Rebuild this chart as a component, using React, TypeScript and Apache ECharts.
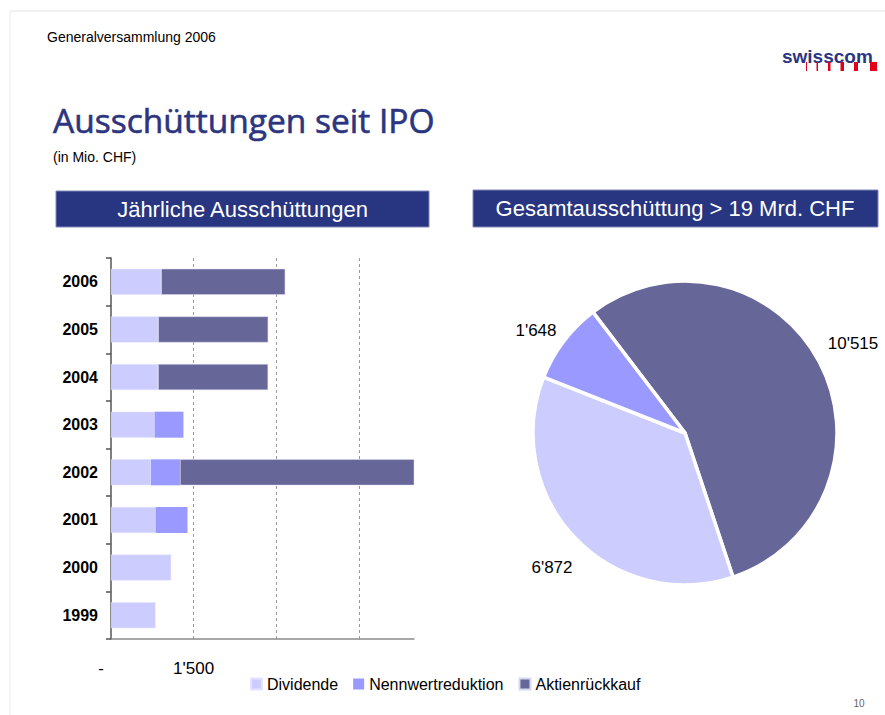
import React, { useEffect, useRef } from "react";
import * as echarts from "echarts";

const years = ["1999", "2000", "2001", "2002", "2003", "2004", "2005", "2006"];
const dividende = [808, 1092, 808, 723, 790, 856, 858, 912];
const nennwertreduktion = [null, null, 580, 530, 525, null, null, null];
const aktienrueckkauf = [null, null, null, 4275, null, 1995, 1995, 2250];

const pieNames = ["Aktienrückkauf", "Dividende", "Nennwertreduktion"];
const pieValues = [10515, 6872, 1648];

const seriesNames = ["Dividende", "Nennwertreduktion", "Aktienrückkauf"];
const colors: Record<string, string> = {
  Dividende: "#ccccff",
  Nennwertreduktion: "#9999ff",
  "Aktienrückkauf": "#666699",
};

const xMax = 5500;
const xInterval = 1500;

const fmt = (v: number) => String(v).replace(/\B(?=(\d{3})+(?!\d))/g, "'");

const SANS = '"Liberation Sans", Arial, sans-serif';

export default function App() {
  const ref = useRef<HTMLDivElement>(null);
  useEffect(() => {
    if (!ref.current) return;
    const chart = echarts.init(ref.current, undefined, { renderer: "svg" });
    const labelPos: Record<number, [number, number]> = {
      0: [853, 343],
      1: [552, 567],
      2: [536, 330],
    };
    const option: any = {
      animation: false,
      backgroundColor: "#ffffff",
      graphic: [
        { type: "line", shape: { x1: 10, y1: 11, x2: 885, y2: 11 }, style: { stroke: "#e2e2e2", lineWidth: 1 } },
        { type: "line", shape: { x1: 10, y1: 11, x2: 10, y2: 715 }, style: { stroke: "#ececec", lineWidth: 1 } },
        {
          type: "text", x: 47, y: 37,
          style: { text: "Generalversammlung 2006", font: `14px ${SANS}`, fill: "#000", verticalAlign: "middle" },
        },
        {
          type: "text", x: 782, y: 56,
          style: { text: "swisscom", font: `bold 19px ${SANS}`, fill: "#2b3580", verticalAlign: "middle" },
        },
        { type: "rect", shape: { x: 806, y: 62, width: 1, height: 9 }, style: { fill: "#e4001b" } },
        { type: "rect", shape: { x: 816.5, y: 62, width: 1.5, height: 9 }, style: { fill: "#e4001b" } },
        { type: "rect", shape: { x: 828, y: 62, width: 2.5, height: 9 }, style: { fill: "#e4001b" } },
        { type: "rect", shape: { x: 840.5, y: 62, width: 3.5, height: 9 }, style: { fill: "#e4001b" } },
        { type: "rect", shape: { x: 854, y: 62, width: 4, height: 9 }, style: { fill: "#e4001b" } },
        { type: "rect", shape: { x: 870, y: 62, width: 7, height: 9 }, style: { fill: "#e4001b" } },
        {
          type: "text", x: 53, y: 120,
          style: {
            text: "Ausschüttungen seit IPO", font: `33.5px "Open Sans", ${SANS}`, fill: "#2b3580",
            stroke: "#2b3580", lineWidth: 0.6, verticalAlign: "middle",
          },
        },
        {
          type: "text", x: 53, y: 157,
          style: { text: "(in Mio. CHF)", font: `14px ${SANS}`, fill: "#000", verticalAlign: "middle" },
        },
        {
          type: "rect", shape: { x: 56, y: 191, width: 373, height: 36 },
          style: { fill: "#283580", stroke: "#7f88b8", lineWidth: 1 },
        },
        {
          type: "text", x: 242.5, y: 209,
          style: { text: "Jährliche Ausschüttungen", font: `22px ${SANS}`, fill: "#fff", align: "center", verticalAlign: "middle" },
        },
        {
          type: "rect", shape: { x: 473, y: 190, width: 405, height: 37 },
          style: { fill: "#283580", stroke: "#7f88b8", lineWidth: 1 },
        },
        {
          type: "text", x: 675, y: 208.5,
          style: { text: "Gesamtausschüttung > 19 Mrd. CHF", font: `22px ${SANS}`, fill: "#fff", align: "center", verticalAlign: "middle" },
        },
        {
          type: "text", x: 859, y: 703,
          style: { text: "10", font: `10px ${SANS}`, fill: "#666", align: "center", verticalAlign: "middle" },
        },
      ],
      legend: {
        data: seriesNames,
        left: 250,
        top: 676,
        icon: "rect",
        itemWidth: 11,
        itemHeight: 11,
        itemGap: 15,
        padding: 0,
        textStyle: { fontSize: 16, fontFamily: SANS, color: "#000" },
      },
      grid: { left: 111, top: 258, width: 303, bottom: 76, containLabel: false },
      xAxis: {
        type: "value",
        min: 0,
        max: xMax,
        interval: xInterval,
        axisLine: { show: true, lineStyle: { color: "#8a8a8a", width: 1.5 } },
        axisTick: { show: false },
        splitLine: {
          show: true,
          lineStyle: { type: [3, 3], color: ["transparent", "#9a9a9a", "#9a9a9a", "#9a9a9a", "transparent"], width: 1 },
        },
        axisLabel: {
          margin: 21,
          fontSize: 17,
          fontFamily: SANS,
          color: "#000",
          formatter: (v: number) => (v === 0 ? "{d|-}" : v === xInterval ? fmt(v) : ""),
          rich: { d: { fontSize: 17, fontFamily: SANS, color: "#000", padding: [0, 20, 0, 0] } },
        },
      },
      yAxis: {
        type: "category",
        data: years,
        axisLine: { show: true, lineStyle: { color: "#555", width: 1.5 } },
        axisTick: { show: true, length: 5, lineStyle: { color: "#555", width: 1.5 } },
        axisLabel: { margin: 13, fontSize: 16, fontWeight: "bold", fontFamily: SANS, color: "#000" },
      },
      series: [
        {
          name: "Dividende", type: "bar", stack: "a", barWidth: 26, data: dividende,
          itemStyle: { color: colors.Dividende, borderColor: "#e4e4ff", borderWidth: 0.5 },
        },
        {
          name: "Nennwertreduktion", type: "bar", stack: "a", barWidth: 26, data: nennwertreduktion,
          itemStyle: { color: colors.Nennwertreduktion },
        },
        {
          name: "Aktienrückkauf", type: "bar", stack: "a", barWidth: 26, data: aktienrueckkauf,
          itemStyle: { color: colors["Aktienrückkauf"], borderColor: "#d8d8ee", borderWidth: 0.5 },
        },
        {
          name: "Gesamt", type: "pie", center: [685, 433], radius: 152,
          startAngle: 127.3, clockwise: true, avoidLabelOverlap: false,
          data: pieNames.map((n, i) => ({ name: n, value: pieValues[i], itemStyle: { color: colors[n] } })),
          itemStyle: { borderColor: "#fff", borderWidth: 3.5 },
          label: {
            show: true, position: "inside", formatter: (p: any) => fmt(p.value),
            fontSize: 17, fontFamily: SANS, color: "#000", overflow: "none",
          },
          labelLine: { show: false },
          labelLayout: (p: any) => ({
            x: labelPos[p.dataIndex][0], y: labelPos[p.dataIndex][1], align: "center", verticalAlign: "middle",
          }),
          emphasis: { disabled: true },
        },
      ],
    };
    chart.setOption(option);
    return () => chart.dispose();
  }, []);
  return <div ref={ref} style={{ position: "fixed", left: 0, top: 0, width: 885, height: 715 }} />;
}
